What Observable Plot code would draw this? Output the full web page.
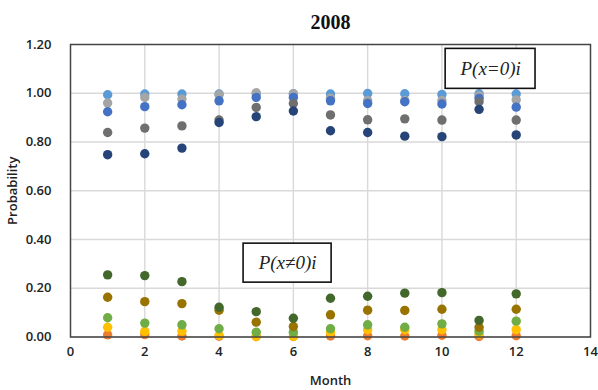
<!DOCTYPE html>
<html><head><meta charset="utf-8">
<script src="https://cdn.jsdelivr.net/npm/d3@7"></script>
<script src="https://cdn.jsdelivr.net/npm/@observablehq/plot@0.6"></script>
<style>body{margin:0;background:#fff}</style>
</head><body><div id="chart"></div>
<script>
const months = [1,2,3,4,5,6,7,8,9,10,11,12];
const seriesNames = ["P0 class 1","P0 class 2","P0 class 3","P0 class 4","P0 class 5","P1 class 1","P1 class 2","P1 class 3","P1 class 4","P1 class 5"];
const seriesColors = ["#5B9BD5","#A5A5A5","#4472C4","#6F6F6F","#264478","#ED7D31","#FFC000","#70AD47","#997300","#43682B"];
const p0c1 = [0.994,0.997,0.997,0.997,0.998,0.998,0.997,0.999,0.998,0.995,0.998,0.997];
const p0c2 = [0.960,0.983,0.976,0.994,1.002,0.998,0.980,0.970,0.970,0.970,0.990,0.973];
const p0c3 = [0.924,0.945,0.953,0.969,0.983,0.983,0.969,0.958,0.965,0.956,0.979,0.943];
const p0c4 = [0.839,0.857,0.866,0.890,0.942,0.958,0.911,0.891,0.895,0.890,0.965,0.890];
const p0c5 = [0.748,0.752,0.775,0.880,0.904,0.927,0.846,0.839,0.824,0.822,0.934,0.829];
const p1c1 = [0.009,0.010,0.004,0.003,0.002,0.002,0.004,0.005,0.004,0.007,0.002,0.005];
const p1c2 = [0.040,0.023,0.024,0.006,0.002,0.002,0.020,0.030,0.030,0.030,0.012,0.030];
const p1c3 = [0.079,0.057,0.050,0.034,0.020,0.020,0.034,0.050,0.040,0.054,0.024,0.065];
const p1c4 = [0.163,0.145,0.137,0.110,0.061,0.043,0.091,0.110,0.109,0.114,0.040,0.114];
const p1c5 = [0.255,0.252,0.227,0.122,0.104,0.077,0.159,0.167,0.180,0.182,0.068,0.177];
const xTicks = [0,2,4,6,8,10,12,14];
const yTicks = [0,0.2,0.4,0.6,0.8,1.0,1.2];
const titleText = "2008";
const annotations = [
  {label:"P(x=0)i", x1:10.1, x2:12.52, y1:1.018, y2:1.182},
  {label:"P(x≠0)i", x1:4.66, x2:7.03, y1:0.223, y2:0.383}
];

const all = [p0c1,p0c2,p0c3,p0c4,p0c5,p1c1,p1c2,p1c3,p1c4,p1c5];
const data = [];
all.forEach((arr,si)=>arr.forEach((v,i)=>data.push({month:months[i], p:v, s:seriesNames[si]})));

const font = "Open Sans, Lato, sans-serif";
const chart = Plot.plot({
  width:598, height:390,
  marginLeft:70, marginRight:8, marginTop:44, marginBottom:53.5,
  style:{fontFamily:font, background:"#fff"},
  x:{domain:[0,14]},
  y:{domain:[0,1.2]},
  color:{type:"ordinal", domain:seriesNames, range:seriesColors},
  marks:[
    Plot.gridX(xTicks.slice(1,-1), {stroke:"#d9d9d9", strokeOpacity:1, strokeWidth:1.4}),
    Plot.gridY(yTicks.slice(1,-1), {stroke:"#d9d9d9", strokeOpacity:1, strokeWidth:1.4}),
    Plot.ruleY([0], {stroke:"#cfcfcf", strokeWidth:1.5}),
    Plot.axisX(xTicks, {tickSize:0, tickPadding:10, fontSize:13, fontWeight:600, fill:"#222",
      label:"Month", labelAnchor:"center", labelArrow:false, labelOffset:48}),
    Plot.axisY(yTicks, {tickSize:0, tickPadding:19, fontSize:13, fontWeight:600, fill:"#222",
      tickFormat:d3.format(".2f"),
      label:"Probability", labelAnchor:"center", labelArrow:false, labelOffset:63}),
    Plot.dot(data, {x:"month", y:"p", fill:"s", r:4.7, stroke:"none"}),
    Plot.rect(annotations, {x1:"x1", x2:"x2", y1:"y1", y2:"y2", fill:"#fff", stroke:"#111", strokeWidth:1.6}),
    Plot.text(annotations, {x:d=>(d.x1+d.x2)/2, y:d=>(d.y1+d.y2)/2, text:"label",
      fontFamily:"Liberation Serif, Times New Roman, serif", fontStyle:"italic", fontSize:19, fill:"#222"}),
    Plot.frame({stroke:"#444", strokeWidth:1.5}),
    Plot.text([titleText], {frameAnchor:"top", dy:-30, fontFamily:"Liberation Serif, Times New Roman, serif",
      fontWeight:"bold", fontSize:20, fill:"#111"})
  ]
});
chart.querySelectorAll("[aria-label='x-axis label'] text, [aria-label='y-axis label'] text").forEach(t=>{
  t.setAttribute("font-size","13"); t.setAttribute("font-weight","600"); t.setAttribute("fill","#222");
});
document.getElementById("chart").append(chart);
</script>
</body></html>
